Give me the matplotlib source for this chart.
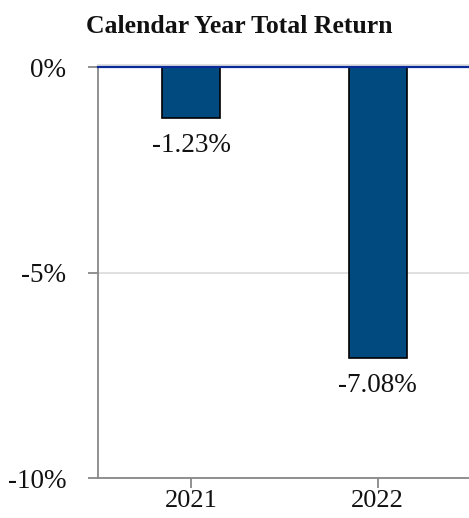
import matplotlib
matplotlib.use("Agg")
import matplotlib.pyplot as plt
import matplotlib.transforms as mtransforms

years = ["2021", "2022"]
returns = [-1.23, -7.08]
yticks = [0, -5, -10]
ytick_labels = ["0%", "-5%", "-10%"]

plt.rcParams['font.family'] = ['Liberation Serif', 'DejaVu Serif']

fig = plt.figure(figsize=(4.69, 5.18), dpi=100)
ax = fig.add_axes([0.209, 0.0772, 0.795, 0.7934])

x = list(range(len(years)))
ax.bar(x, returns, width=0.31, color="#004A80", edgecolor="black", linewidth=1.2, zorder=3)

for xi, v in zip(x, returns):
    ax.annotate(f"{v:.2f}%", (xi, v), xytext=(0, -11), textcoords="offset points",
                ha="center", va="top", fontsize=19.5, color="#111111")

ax.set_xlim(-0.5, 1.5)
ax.set_ylim(-10, 0)
ax.set_yticks(yticks)
ax.set_yticklabels(ytick_labels, fontsize=19.5)
ax.set_xticks(x)
ax.set_xticklabels(years, fontsize=19)

ax.grid(axis="y", color="#DDDDDD", linewidth=1.3, zorder=0)
ax.set_axisbelow(True)
# gray line just above zero, blue zero line
off = mtransforms.ScaledTranslation(0, 2/100, fig.dpi_scale_trans)
ax.plot([0, 1], [0, 0], color="#DDDDDD", linewidth=1.3, zorder=1,
        transform=ax.get_yaxis_transform() + off, clip_on=False)
ax.axhline(0, color="#0A2A9A", linewidth=1.6, zorder=4, clip_on=False)

for s in ["top", "right"]:
    ax.spines[s].set_visible(False)
for s in ["left", "bottom"]:
    ax.spines[s].set_color("#888888")
    ax.spines[s].set_linewidth(1.3)
ax.tick_params(axis="both", colors="#888888", length=7.2, width=1.3, labelcolor="#111111")
ax.tick_params(axis="y", pad=15.5)
ax.tick_params(axis="x", pad=1.5)

fig.text(0.51, 1 - 33/518, "Calendar Year Total Return", ha="center", va="baseline",
         fontsize=18.5, fontweight="bold", color="#111111")

fig.savefig("out.png", dpi=100)
